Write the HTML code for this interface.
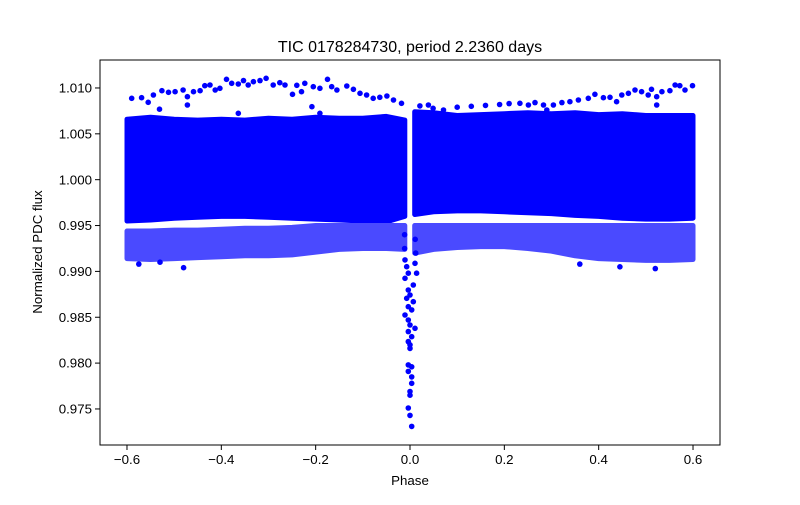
<!DOCTYPE html>
<html><head><meta charset="utf-8"><style>
body{margin:0;background:#fff}
svg text{font-family:"Liberation Sans","DejaVu Sans",sans-serif;fill:#000}
</style></head><body>
<svg id="chart" width="800" height="500" viewBox="0 0 800 500" xmlns="http://www.w3.org/2000/svg">
<rect width="800" height="500" fill="#fff"/>
<g id="bands"></g>
<g id="pts"></g>
<g id="axes"></g>
<text x="410" y="52" font-size="16" text-anchor="middle">TIC 0178284730, period 2.2360 days</text>
<text x="410" y="485" font-size="13.3" text-anchor="middle">Phase</text>
<text transform="translate(42,252) rotate(-90)" font-size="13.3" text-anchor="middle">Normalized PDC flux</text>
</svg>
<script>
// ---- data (flux values in ppt offset from 1.0) ----
const leftBinPhase=[-0.60,-0.55,-0.50,-0.45,-0.40,-0.35,-0.30,-0.25,-0.20,-0.15,-0.10,-0.05,-0.011];
const leftCoreHi=[6.6,6.8,6.6,6.5,6.6,6.5,6.7,6.6,6.8,6.7,6.7,6.9,6.5];
const leftCoreLo=[-4.5,-4.4,-4.2,-4.1,-4.0,-4.0,-4.1,-4.2,-4.3,-4.4,-4.5,-4.6,-4.0];
const leftLowHi=[-5.6,-5.6,-5.5,-5.5,-5.4,-5.3,-5.3,-5.2,-5.0,-5.0,-5.0,-5.0,-5.0];
const leftLowLo=[-8.6,-8.7,-8.6,-8.5,-8.4,-8.3,-8.3,-8.2,-7.9,-7.6,-7.5,-7.5,-7.6];
const rightBinPhase=[0.010,0.05,0.10,0.15,0.20,0.25,0.30,0.35,0.40,0.45,0.50,0.55,0.60];
const rightCoreHi=[7.4,7.3,7.0,7.1,7.2,7.3,7.2,7.3,7.1,7.2,7.0,7.0,7.0];
const rightCoreLo=[-3.8,-3.5,-3.4,-3.4,-3.5,-3.6,-3.7,-3.9,-4.0,-4.2,-4.3,-4.3,-4.2];
const rightLowHi=[-5.0,-5.0,-5.0,-5.0,-5.0,-5.0,-5.0,-5.0,-5.0,-5.0,-5.0,-5.0,-5.0];
const rightLowLo=[-8.0,-7.6,-7.4,-7.3,-7.3,-7.5,-7.8,-8.3,-8.6,-8.7,-8.8,-8.8,-8.7];
const topPhase=[-0.590,-0.569,-0.555,-0.544,-0.526,-0.512,-0.498,-0.481,-0.472,-0.472,-0.459,-0.445,-0.435,-0.424,-0.413,-0.403,-0.389,-0.378,-0.364,-0.353,-0.343,-0.332,-0.318,-0.305,-0.290,-0.276,-0.265,-0.249,-0.240,-0.230,-0.223,-0.205,-0.191,-0.175,-0.166,-0.155,-0.134,-0.120,-0.106,-0.092,-0.078,-0.064,-0.049,-0.035,-0.018,-0.208,-0.191,-0.531,-0.364,
0.021,0.039,0.049,0.071,0.10,0.13,0.16,0.19,0.21,0.233,0.251,0.265,0.283,0.290,0.304,0.322,0.339,0.357,0.378,0.392,0.410,0.424,0.438,0.449,0.463,0.477,0.491,0.505,0.512,0.523,0.523,0.534,0.551,0.562,0.572,0.583,0.599];
const topFlux=[8.87,8.94,8.44,9.23,9.70,9.53,9.59,9.78,9.05,8.14,9.59,9.70,10.25,10.32,9.78,9.96,10.95,10.51,10.43,10.8,10.32,10.68,10.8,11.05,10.32,10.58,10.32,9.31,10.29,9.59,10.51,10.14,9.96,10.95,10.14,9.78,10.22,9.86,9.42,9.23,8.87,8.98,9.13,8.69,8.33,7.96,7.24,7.68,7.24,
8.04,8.14,7.78,7.6,7.9,8.0,8.1,8.2,8.3,8.33,8.14,8.4,8.14,7.6,8.14,8.4,8.5,8.69,8.87,9.31,8.94,8.98,8.5,9.23,9.42,9.78,9.59,9.23,9.86,9.05,8.14,9.59,9.70,10.32,10.25,9.78,10.25];
const transitPhase=[-0.0106,-0.007,0.0106,-0.0035,0.014,-0.0106,0.007,-0.0035,0,-0.007,0.007,-0.0035,0.0035,-0.0106,-0.0035,0,0.0106,-0.0035,0.0035,-0.0035,0,0,-0.0035,0.0035,-0.0035,0.0035,0.0035,0,0,-0.0035,0,0.0035,-0.0115,-0.0115,0.011,0.012];
const transitFlux=[-8.75,-9.49,-9.12,-10.2,-10.2,-10.75,-11.48,-12.03,-12.57,-12.93,-13.3,-13.85,-14.2,-14.75,-15.3,-15.84,-16.2,-16.57,-17.12,-17.66,-18.0,-18.4,-20.2,-20.4,-20.9,-21.5,-22.2,-23.1,-23.5,-24.9,-25.7,-26.9,-6.0,-7.5,-6.5,-8.0];
const outlierPhase=[-0.575,-0.48,0.445,0.52,-0.53,0.36];
const outlierFlux=[-9.2,-9.6,-9.5,-9.7,-9.0,-9.2];
const xTicks=[-0.6,-0.4,-0.2,0.0,0.2,0.4,0.6];
const yTicks=[0.975,0.980,0.985,0.990,0.995,1.000,1.005,1.010];

// ---- scales ----
const X0=100,X1=720,Y0=60,Y1=445;
const xMin=-0.6572,xMax=0.6572,yMin=0.97107,yMax=1.01305;
const sx=v=>X0+(v-xMin)/(xMax-xMin)*(X1-X0);
const sy=v=>Y1-(v-yMin)/(yMax-yMin)*(Y1-Y0);
const fy=p=>sy(1+p/1000);
const NS='http://www.w3.org/2000/svg';
function mk(t,a,parent){const e=document.createElementNS(NS,t);for(const k in a)e.setAttribute(k,a[k]);parent.appendChild(e);return e;}
const bands=document.getElementById('bands'),pts=document.getElementById('pts'),axes=document.getElementById('axes');

function band(ph,hi,lo,fill,name){
  let d='';
  ph.forEach((p,i)=>{d+=(i?'L':'M')+sx(p).toFixed(1)+','+fy(hi[i]).toFixed(1);});
  for(let i=ph.length-1;i>=0;i--)d+='L'+sx(ph[i]).toFixed(1)+','+fy(lo[i]).toFixed(1);
  const e=mk('path',{d:d+'Z',fill:fill,stroke:fill,'stroke-width':5,'stroke-linejoin':'round'},bands);
  
  
}
band(leftBinPhase,leftCoreHi,leftCoreLo,'#0000ff','core-band-left');
band(leftBinPhase,leftLowHi,leftLowLo,'#4a4aff','low-band-left');
band(rightBinPhase,rightCoreHi,rightCoreLo,'#0000ff','core-band-right');
band(rightBinPhase,rightLowHi,rightLowLo,'#4a4aff','low-band-right');

function dots(ph,fl,name){
  ph.forEach((p,i)=>{
    const c=mk('circle',{cx:sx(p).toFixed(1),cy:fy(fl[i]).toFixed(1),r:2.8,fill:'#0000ff'},pts);
    
    
  });
}
dots(topPhase,topFlux,'top-point');
dots(transitPhase,transitFlux,'transit-point');
dots(outlierPhase,outlierFlux,'outlier-point');

// ---- axes ----
const fr=mk('rect',{x:X0,y:Y0,width:X1-X0,height:Y1-Y0,fill:'none',stroke:'#000','stroke-width':1},axes);


xTicks.forEach(v=>{
  const x=sx(v);
  const l=mk('line',{x1:x,y1:Y1,x2:x,y2:Y1+5,stroke:'#000','stroke-width':1},axes);
  
  
  const t=mk('text',{x:x,y:Y1+19,'font-size':13.3,'text-anchor':'middle'},axes);
  t.textContent=(v<0?'\u2212':'')+Math.abs(v).toFixed(1);
  
  
});
yTicks.forEach(v=>{
  const y=sy(v);
  const l=mk('line',{x1:X0-5,y1:y,x2:X0,y2:y,stroke:'#000','stroke-width':1},axes);
  
  
  const t=mk('text',{x:X0-8,y:y+4.6,'font-size':13.3,'text-anchor':'end'},axes);
  t.textContent=v.toFixed(3);
  
  
});
</script>
</body></html>
